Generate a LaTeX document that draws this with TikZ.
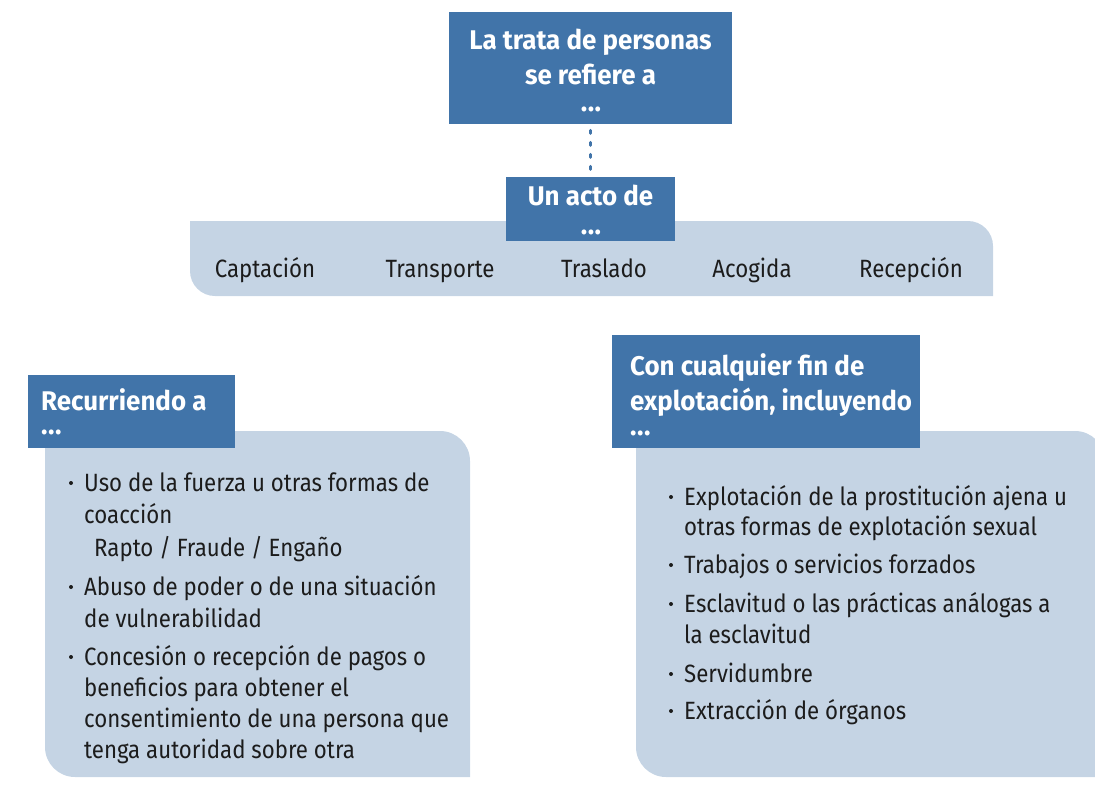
\documentclass[tikz,border=0pt]{standalone}
\usepackage{fontspec}
\setmainfont{Fira Sans}[FakeStretch=0.89]
\newfontfamily\hdrfont{Fira Sans}[FakeStretch=0.96]
\definecolor{dblue}{HTML}{4174A9}
\definecolor{lblue}{HTML}{C5D4E4}
\definecolor{ink}{HTML}{1C1C1C}
\newcommand{\mydots}{{\fontsize{28}{33}\selectfont.\kern0.5pt.\kern0.5pt.}}
\begin{document}
\begin{tikzpicture}[x=1pt,y=-1pt,
  hdr/.style={fill=dblue, draw=none, inner sep=0, anchor=north west},
  htxt/.style={text=white, font=\hdrfont\fontsize{27}{33}\selectfont\bfseries, inner sep=0, anchor=base},
  hltxt/.style={htxt, anchor=base west},
  txt/.style={text=ink, font=\fontsize{25}{32}\selectfont, inner sep=0, anchor=base west},
  ctxt/.style={txt, anchor=base},
  dot/.style={fill=ink},
  panel/.style={fill=lblue, draw=none}]
\clip (0,0) rectangle (1095,785);
\useasboundingbox (0,0) rectangle (1095,785);
% band of acts
\fill[panel] (190,221) -- (968,221) arc[start angle=-90,end angle=0,radius=25]
  -- (993,296) -- (215,296) arc[start angle=90,end angle=180,radius=25] -- cycle;
% left panel
\fill[panel] (45,431) -- (440,431) arc[start angle=-90,end angle=0,radius=30]
  -- (470,777) -- (75,777) arc[start angle=90,end angle=180,radius=30] -- cycle;
% right panel
\fill[panel] (636,431) -- (1075,431) arc[start angle=-90,end angle=0,radius=30]
  -- (1105,777) -- (666,777) arc[start angle=90,end angle=180,radius=30] -- cycle;
% header boxes
\node[hdr, minimum width=283, minimum height=112] (top) at (449,12) {};
\node[hdr, minimum width=169, minimum height=64] (acto) at (506,177) {};
\node[hdr, minimum width=207, minimum height=73] (recu) at (28,375) {};
\node[hdr, minimum width=308, minimum height=113] (conc) at (612,335) {};
\draw[dblue, line width=3, line cap=round, dash pattern=on 3 off 9] (top.south) ++(0,6) -- (acto.north);
% header texts
\node[htxt] (t1) at (590.5,49) {La trata de personas};
\node[htxt] (t2) at (590.5,84) {se refiere a};
\node[htxt] (t3) at (591,111) {\mydots};
\node[htxt] (a1) at (590.5,205) {Un acto de};
\node[htxt] (a2) at (591,234) {\mydots};
\node[hltxt] (r1) at (41,410) {Recurriendo a};
\node[hltxt] (r2) at (41,434) {\mydots};
\node[hltxt] (c1) at (630,375) {Con cualquier fin de};
\node[hltxt] (c2) at (630,410) {explotación, incluyendo};
\node[hltxt] (c3) at (630,435) {\mydots};
% acts
\node[ctxt] (k1) at (265,277) {Captación};
\node[ctxt] (k2) at (440,277) {Transporte};
\node[ctxt] (k3) at (604,277) {Traslado};
\node[ctxt] (k4) at (752,277) {Acogida};
\node[ctxt] (k5) at (911,277) {Recepción};
% left list
\node[txt] (l1) at (84,491) {Uso de la fuerza u otras formas de};
\node[txt] (l2) at (84,523) {coacción};
\node[txt] (l3) at (94,556) {Rapto / Fraude / Engaño};
\node[txt] (l4) at (84,595) {Abuso de poder o de una situación};
\node[txt] (l5) at (84,627) {de vulnerabilidad};
\node[txt] (l6) at (84,665) {Concesión o recepción de pagos o};
\node[txt] (l7) at (84,696) {beneficios para obtener el};
\node[txt] (l8) at (84,727) {consentimiento de una persona que};
\node[txt] (l9) at (84,758) {tenga autoridad sobre otra};
\foreach \yy in {491,595,665} \fill[dot] (71,\yy-8) circle[radius=2];
% right list
\node[txt] (m1) at (684,505) {Explotación de la prostitución ajena u};
\node[txt] (m2) at (684,535) {otras formas de explotación sexual};
\node[txt] (m3) at (684,573) {Trabajos o servicios forzados};
\node[txt] (m4) at (684,612) {Esclavitud o las prácticas análogas a};
\node[txt] (m5) at (684,643) {la esclavitud};
\node[txt] (m6) at (684,682) {Servidumbre};
\node[txt] (m7) at (684,719) {Extracción de órganos};
\foreach \yy in {505,573,612,682,719} \fill[dot] (671,\yy-8) circle[radius=2];
\end{tikzpicture}
\end{document}
